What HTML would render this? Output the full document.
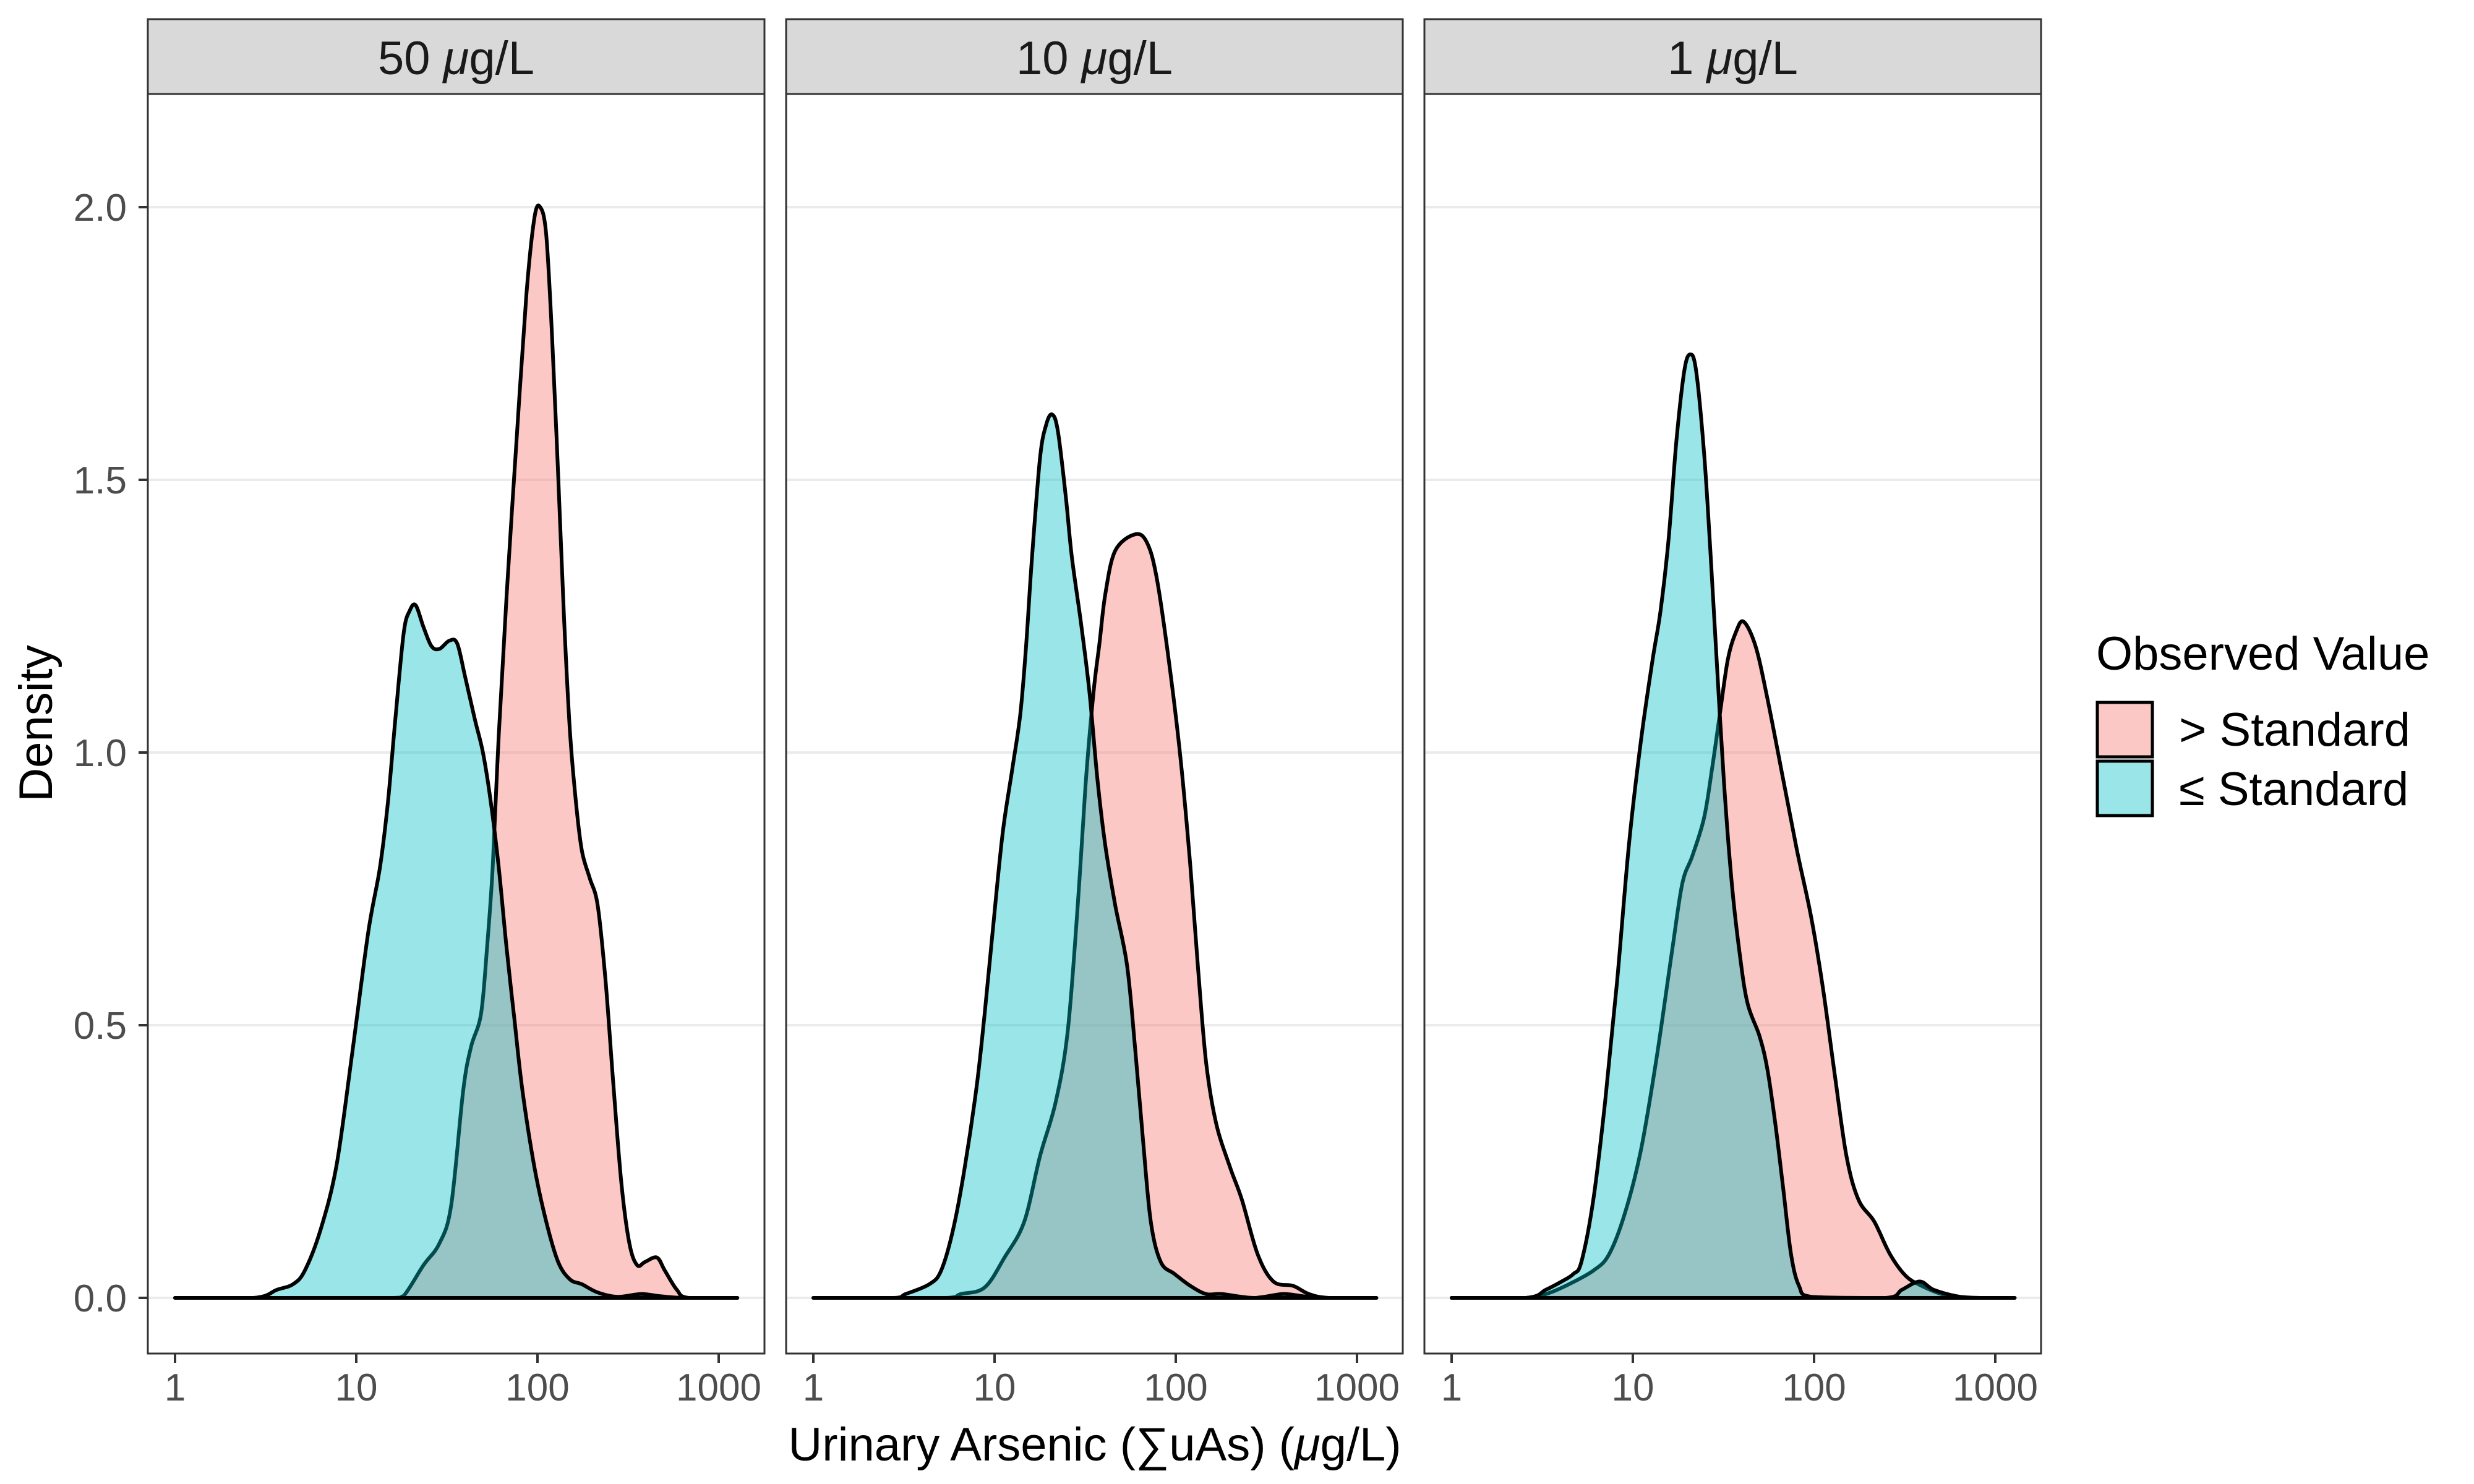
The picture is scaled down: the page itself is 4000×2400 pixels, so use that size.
<!DOCTYPE html>
<html><head><meta charset="utf-8">
<style>
html,body{margin:0;padding:0;background:#fff;}
svg{display:block;font-family:"Liberation Sans",Arial,sans-serif;}
</style></head>
<body>
<svg id="chart" width="4000" height="2400" viewBox="0 0 4000 2400" xmlns="http://www.w3.org/2000/svg">
<rect width="4000" height="2400" fill="#fff"/>
<g id="panels"></g>
<text x="1770" y="2362" font-size="76" text-anchor="middle" fill="#000">Urinary Arsenic (∑uAs) (<tspan font-style="italic">μ</tspan>g/L)</text>
<text transform="translate(84,1170) rotate(-90)" font-size="76" text-anchor="middle" fill="#000">Density</text>
<g>
<text x="3389" y="1083" font-size="76" fill="#000">Observed Value</text>
<rect x="3391" y="1136" width="89" height="88" fill="rgba(248,118,109,0.4)" stroke="#000" stroke-width="5"/>
<text x="3523" y="1206" font-size="76" fill="#000">&gt; Standard</text>
<rect x="3391" y="1231" width="89" height="88" fill="rgba(0,191,196,0.4)" stroke="#000" stroke-width="5"/>
<text x="3523" y="1302" font-size="76" fill="#000">≤ Standard</text>
</g>
</svg>
<script>
// Facet labels
const facetLabels = ["50", "10", "1"];
// x grid values are log10(µg/L)
const p1RedX = [0,1.20,1.262,1.371,1.459,1.524,1.590,1.633,1.688,1.721,1.753,1.786,1.830,1.884,1.939,1.983,2.015,2.048,2.081,2.114,2.146,2.179,2.212,2.245,2.288,2.332,2.376,2.419,2.463,2.507,2.550,2.594,2.659,2.703,2.769,2.834,3.103];
const p1RedY = [0,0,0.004,0.06,0.10,0.17,0.38,0.46,0.52,0.64,0.79,1.03,1.29,1.57,1.84,1.98,2.0,1.95,1.76,1.51,1.25,1.04,0.91,0.82,0.77,0.72,0.58,0.39,0.21,0.10,0.06,0.066,0.074,0.05,0.015,0,0];
const p1BlueX = [0,0.432,0.563,0.651,0.716,0.803,0.891,0.978,1.066,1.131,1.175,1.218,1.262,1.295,1.328,1.371,1.415,1.459,1.513,1.557,1.600,1.655,1.699,1.742,1.786,1.830,1.873,1.917,1.983,2.048,2.114,2.179,2.245,2.332,2.441,2.572,2.681,2.812,3.103];
const p1BlueY = [0,0,0.015,0.025,0.05,0.125,0.243,0.45,0.67,0.79,0.91,1.07,1.22,1.26,1.27,1.23,1.195,1.19,1.205,1.20,1.14,1.06,1.0,0.91,0.79,0.64,0.51,0.38,0.24,0.14,0.066,0.034,0.025,0.01,0.002,0.007,0.003,0,0];
const p2RedX = [0,0.727,0.814,0.945,1.055,1.164,1.251,1.338,1.404,1.459,1.502,1.546,1.579,1.611,1.666,1.775,1.841,1.895,1.961,2.026,2.081,2.124,2.168,2.223,2.299,2.365,2.452,2.539,2.648,2.736,2.845,3.107];
const p2RedY = [0,0,0.007,0.019,0.074,0.14,0.26,0.36,0.49,0.72,0.94,1.11,1.20,1.29,1.37,1.40,1.385,1.32,1.17,0.99,0.79,0.60,0.43,0.32,0.24,0.18,0.08,0.03,0.022,0.007,0,0];
const p2BlueX = [0,0.443,0.509,0.640,0.705,0.771,0.836,0.902,0.945,0.989,1.044,1.098,1.142,1.175,1.207,1.251,1.284,1.317,1.349,1.393,1.426,1.480,1.524,1.568,1.611,1.666,1.731,1.775,1.819,1.862,1.917,1.993,2.081,2.168,2.255,2.430,2.590,2.703,2.823,3.107];
const p2BlueY = [0,0,0.007,0.025,0.05,0.125,0.24,0.39,0.52,0.67,0.85,0.97,1.07,1.20,1.36,1.54,1.60,1.62,1.59,1.47,1.36,1.23,1.11,0.95,0.83,0.72,0.61,0.46,0.29,0.14,0.066,0.044,0.022,0.007,0.007,0,0.007,0.003,0,0];
const p3RedX = [0,0.410,0.520,0.629,0.782,0.869,0.956,1.044,1.131,1.218,1.273,1.328,1.393,1.437,1.480,1.524,1.568,1.611,1.677,1.742,1.830,1.906,1.983,2.048,2.114,2.179,2.245,2.332,2.419,2.507,2.594,2.703,2.812,3.107];
const p3RedY = [0,0,0.007,0.022,0.05,0.08,0.155,0.27,0.44,0.64,0.76,0.81,0.88,0.97,1.07,1.17,1.22,1.24,1.195,1.10,0.95,0.82,0.70,0.57,0.41,0.26,0.18,0.14,0.08,0.04,0.022,0.007,0,0];
const p3BlueX = [0,0.410,0.520,0.607,0.672,0.716,0.782,0.847,0.913,0.978,1.044,1.109,1.153,1.197,1.240,1.284,1.317,1.349,1.393,1.426,1.459,1.502,1.546,1.590,1.633,1.699,1.742,1.786,1.830,1.873,1.917,1.983,2.397,2.485,2.583,2.659,2.790,2.921,3.107];
const p3BlueY = [0,0,0.015,0.03,0.044,0.066,0.18,0.36,0.58,0.83,1.02,1.17,1.26,1.39,1.57,1.70,1.73,1.70,1.55,1.38,1.19,0.95,0.76,0.63,0.54,0.48,0.42,0.32,0.20,0.08,0.022,0.002,0,0.015,0.03,0.015,0.003,0,0];
const yTicks = [0, 0.5, 1.0, 1.5, 2.0];
const yTickLabels = ["0.0", "0.5", "1.0", "1.5", "2.0"];
const xTicks = [0, 1, 2, 3];
const xTickLabels = ["1", "10", "100", "1000"];

const NS = "http://www.w3.org/2000/svg";
const panelLefts = [239, 1271, 2303];
const panelW = 997, stripTop = 31, plotTop = 152, plotBottom = 2189;
const Y0 = 2099, YU = 882, XOFF = 44, DEC = 293;
function yScale(v){ return Y0 - v * YU; }
function xScale(panel, lv){ return panelLefts[panel] + XOFF + lv * DEC; }
function mk(tag, attrs, parent){
  const e = document.createElementNS(NS, tag);
  for (const k in attrs) e.setAttribute(k, attrs[k]);
  parent.appendChild(e);
  return e;
}
function smoothPath(pts){
  let d = "M" + pts[0][0].toFixed(1) + "," + pts[0][1].toFixed(1);
  for (let i = 0; i < pts.length - 1; i++) {
    const p0 = pts[Math.max(0, i-1)], p1 = pts[i], p2 = pts[i+1], p3 = pts[Math.min(pts.length-1, i+2)];
    const t = 1/6;
    let c1x = p1[0] + (p2[0]-p0[0])*t, c1y = p1[1] + (p2[1]-p0[1])*t;
    let c2x = p2[0] - (p3[0]-p1[0])*t, c2y = p2[1] - (p3[1]-p1[1])*t;
    c1x = Math.min(Math.max(c1x, p1[0]), p2[0]); c2x = Math.min(Math.max(c2x, p1[0]), p2[0]);
    c1y = Math.min(c1y, Y0); c2y = Math.min(c2y, Y0);
    d += "C" + c1x.toFixed(1) + "," + c1y.toFixed(1) + " " + c2x.toFixed(1) + "," + c2y.toFixed(1) + " " + p2[0].toFixed(1) + "," + p2[1].toFixed(1);
  }
  return d;
}
const series = [[[p1RedX,p1RedY],[p1BlueX,p1BlueY]],[[p2RedX,p2RedY],[p2BlueX,p2BlueY]],[[p3RedX,p3RedY],[p3BlueX,p3BlueY]]];
const fills = ["rgba(248,118,109,0.4)", "rgba(0,191,196,0.4)"];
const root = document.getElementById("panels");
for (let p = 0; p < 3; p++) {
  const L = panelLefts[p];
  const g = mk("g", {}, root);
  
  
  const st = mk("rect", {x:L, y:stripTop, width:panelW, height:plotTop-stripTop, fill:"#D9D9D9", stroke:"#333", "stroke-width":3}, g);
  
  
  const tx = mk("text", {x:L+panelW/2, y:120, "font-size":76, "text-anchor":"middle", fill:"#1A1A1A"}, g);
  
  
  tx.appendChild(document.createTextNode(facetLabels[p] + " "));
  const ts = mk("tspan", {"font-style":"italic"}, tx); ts.textContent = "μ";
  tx.appendChild(document.createTextNode("g/L"));
  for (let i = 0; i < yTicks.length; i++) {
    const gl = mk("line", {x1:L, x2:L+panelW, y1:yScale(yTicks[i]), y2:yScale(yTicks[i]), stroke:"#EBEBEB", "stroke-width":4}, g);
    
    
  }
  for (let s = 0; s < 2; s++) {
    const xs = series[p][s][0], ys = series[p][s][1];
    const pts = [];
    for (let i = 0; i < xs.length; i++) pts.push([xScale(p, xs[i]), yScale(ys[i])]);
    const path = mk("path", {d:smoothPath(pts) + "Z", fill:fills[s], stroke:"#000", "stroke-width":6, "stroke-linejoin":"round"}, g);
    
    
  }
  const bd = mk("rect", {x:L, y:plotTop, width:panelW, height:plotBottom-plotTop, fill:"none", stroke:"#333", "stroke-width":3}, g);
  
  
  for (let i = 0; i < xTicks.length; i++) {
    const X = xScale(p, xTicks[i]);
    const tk = mk("line", {x1:X, x2:X, y1:plotBottom, y2:plotBottom+15, stroke:"#333", "stroke-width":4}, g);
    
    
    const lb = mk("text", {x:X, y:2265, "font-size":62, "text-anchor":"middle", fill:"#4D4D4D"}, g);
    
    
    lb.textContent = xTickLabels[i];
  }
  if (p === 0) {
    for (let i = 0; i < yTicks.length; i++) {
      const Y = yScale(yTicks[i]);
      const tk = mk("line", {x1:L-15, x2:L, y1:Y, y2:Y, stroke:"#333", "stroke-width":4}, g);
      
      
      const lb = mk("text", {x:205, y:Y+22, "font-size":62, "text-anchor":"end", fill:"#4D4D4D"}, g);
      
      
      lb.textContent = yTickLabels[i];
    }
  }
}
</script>
</body></html>
